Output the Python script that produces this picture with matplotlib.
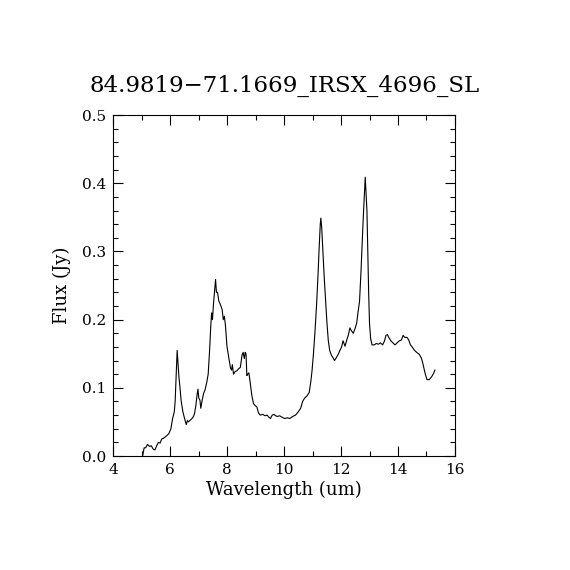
import numpy as np
import matplotlib
matplotlib.use("Agg")
import matplotlib.pyplot as plt
from matplotlib.ticker import MultipleLocator

# spectrum
wavelength = [
    5.03, 5.08, 5.13, 5.20, 5.27, 5.33, 5.40, 5.46, 5.52, 5.58, 5.64, 5.70, 5.76, 5.82,
    5.88, 5.95, 6.02, 6.08, 6.14, 6.17, 6.21, 6.24, 6.27, 6.30, 6.34, 6.38, 6.44, 6.50,
    6.56, 6.60, 6.64, 6.68, 6.74, 6.80, 6.85, 6.90, 6.94, 6.97, 7.00, 7.04, 7.07, 7.12,
    7.17, 7.22, 7.28, 7.33, 7.38, 7.42, 7.45, 7.48, 7.52, 7.56, 7.59, 7.62, 7.66, 7.70,
    7.76, 7.82, 7.86, 7.90, 7.94, 7.99, 8.05, 8.11, 8.15, 8.18, 8.22, 8.28, 8.34, 8.40,
    8.46, 8.52, 8.56, 8.60, 8.63, 8.66, 8.69, 8.72, 8.76, 8.80, 8.86, 8.92, 8.98, 9.04,
    9.10, 9.16, 9.25, 9.33, 9.40, 9.46, 9.52, 9.58, 9.64, 9.70, 9.76, 9.84, 9.92, 10.02,
    10.12, 10.20, 10.30, 10.40, 10.50, 10.58, 10.65, 10.72, 10.80, 10.88, 10.94, 10.98,
    11.03, 11.08, 11.14, 11.19, 11.23, 11.27, 11.29, 11.32, 11.35, 11.41, 11.46, 11.50,
    11.55, 11.60, 11.66, 11.72, 11.77, 11.83, 11.90, 11.96, 12.02, 12.07, 12.14, 12.20,
    12.26, 12.31, 12.36, 12.43, 12.50, 12.55, 12.60, 12.65, 12.70, 12.74, 12.78, 12.82,
    12.85, 12.88, 12.91, 12.94, 12.97, 13.00, 13.04, 13.09, 13.16, 13.24, 13.32, 13.38,
    13.46, 13.52, 13.58, 13.63, 13.69, 13.75, 13.82, 13.90, 13.97, 14.05, 14.12, 14.18,
    14.24, 14.32, 14.38, 14.44, 14.50, 14.58, 14.66, 14.75, 14.82, 14.88, 14.95, 15.02,
    15.10, 15.18, 15.25, 15.30,
]
flux = [
    0.001, 0.012, 0.012, 0.017, 0.014, 0.015, 0.010, 0.009, 0.015, 0.020, 0.019, 0.025, 0.026, 0.028,
    0.030, 0.033, 0.040, 0.055, 0.065, 0.081, 0.125, 0.155, 0.135, 0.117, 0.100, 0.081, 0.065, 0.055,
    0.046, 0.052, 0.050, 0.052, 0.054, 0.057, 0.062, 0.075, 0.090, 0.098, 0.085, 0.082, 0.070, 0.082,
    0.092, 0.097, 0.108, 0.120, 0.155, 0.190, 0.210, 0.200, 0.225, 0.245, 0.259, 0.240, 0.240, 0.228,
    0.222, 0.215, 0.200, 0.205, 0.190, 0.161, 0.145, 0.130, 0.126, 0.134, 0.120, 0.124, 0.125, 0.128,
    0.130, 0.148, 0.152, 0.143, 0.152, 0.150, 0.118, 0.120, 0.122, 0.110, 0.090, 0.077, 0.074, 0.072,
    0.063, 0.060, 0.061, 0.059, 0.060, 0.057, 0.055, 0.060, 0.061, 0.059, 0.058, 0.059, 0.057, 0.055,
    0.056, 0.055, 0.058, 0.060, 0.065, 0.070, 0.080, 0.085, 0.088, 0.093, 0.110, 0.125,
    0.150, 0.180, 0.222, 0.265, 0.305, 0.340, 0.349, 0.335, 0.310, 0.261, 0.225, 0.198,
    0.170, 0.155, 0.148, 0.144, 0.140, 0.144, 0.149, 0.155, 0.160, 0.169, 0.161, 0.170,
    0.178, 0.188, 0.184, 0.180, 0.188, 0.195, 0.212, 0.227, 0.270, 0.310, 0.349, 0.385,
    0.409, 0.385, 0.360, 0.300, 0.240, 0.195, 0.172, 0.163, 0.163, 0.165, 0.164, 0.166,
    0.163, 0.168, 0.177, 0.178, 0.173, 0.169, 0.166, 0.163, 0.166, 0.169, 0.170, 0.177,
    0.174, 0.174, 0.170, 0.163, 0.160, 0.155, 0.152, 0.149, 0.144, 0.135, 0.122, 0.112,
    0.112, 0.116, 0.121, 0.126,
]

title = "84.9819\u221271.1669_IRSX_4696_SL"

plt.rcParams['font.family'] = ['DejaVu Serif']

fig = plt.figure(figsize=(5.7, 5.7), dpi=100)
ax = fig.add_axes([0.199, 0.2, 0.599, 0.598])

ax.plot(wavelength, flux, color='black', lw=0.8)

ax.set_xlim(4, 16)
ax.set_ylim(0, 0.5)
ax.xaxis.set_major_locator(MultipleLocator(2))
ax.xaxis.set_minor_locator(MultipleLocator(1))
ax.yaxis.set_major_locator(MultipleLocator(0.1))
ax.yaxis.set_minor_locator(MultipleLocator(0.02))
ax.yaxis.set_major_formatter(plt.FormatStrFormatter('%.1f'))

ax.tick_params(which='both', direction='in', top=True, right=True, labelsize=11, width=0.8)
ax.tick_params(which='major', length=7, pad=5)
ax.tick_params(which='minor', length=3.5)
for s in ax.spines.values():
    s.set_linewidth(0.8)

ax.set_xlabel('Wavelength (um)', fontsize=13, labelpad=3)
ax.set_ylabel('Flux (Jy)', fontsize=13, labelpad=8)
fig.text(0.5, 0.85, title, ha='center', va='center', fontsize=16.5)

fig.savefig('out.png', dpi=100)
